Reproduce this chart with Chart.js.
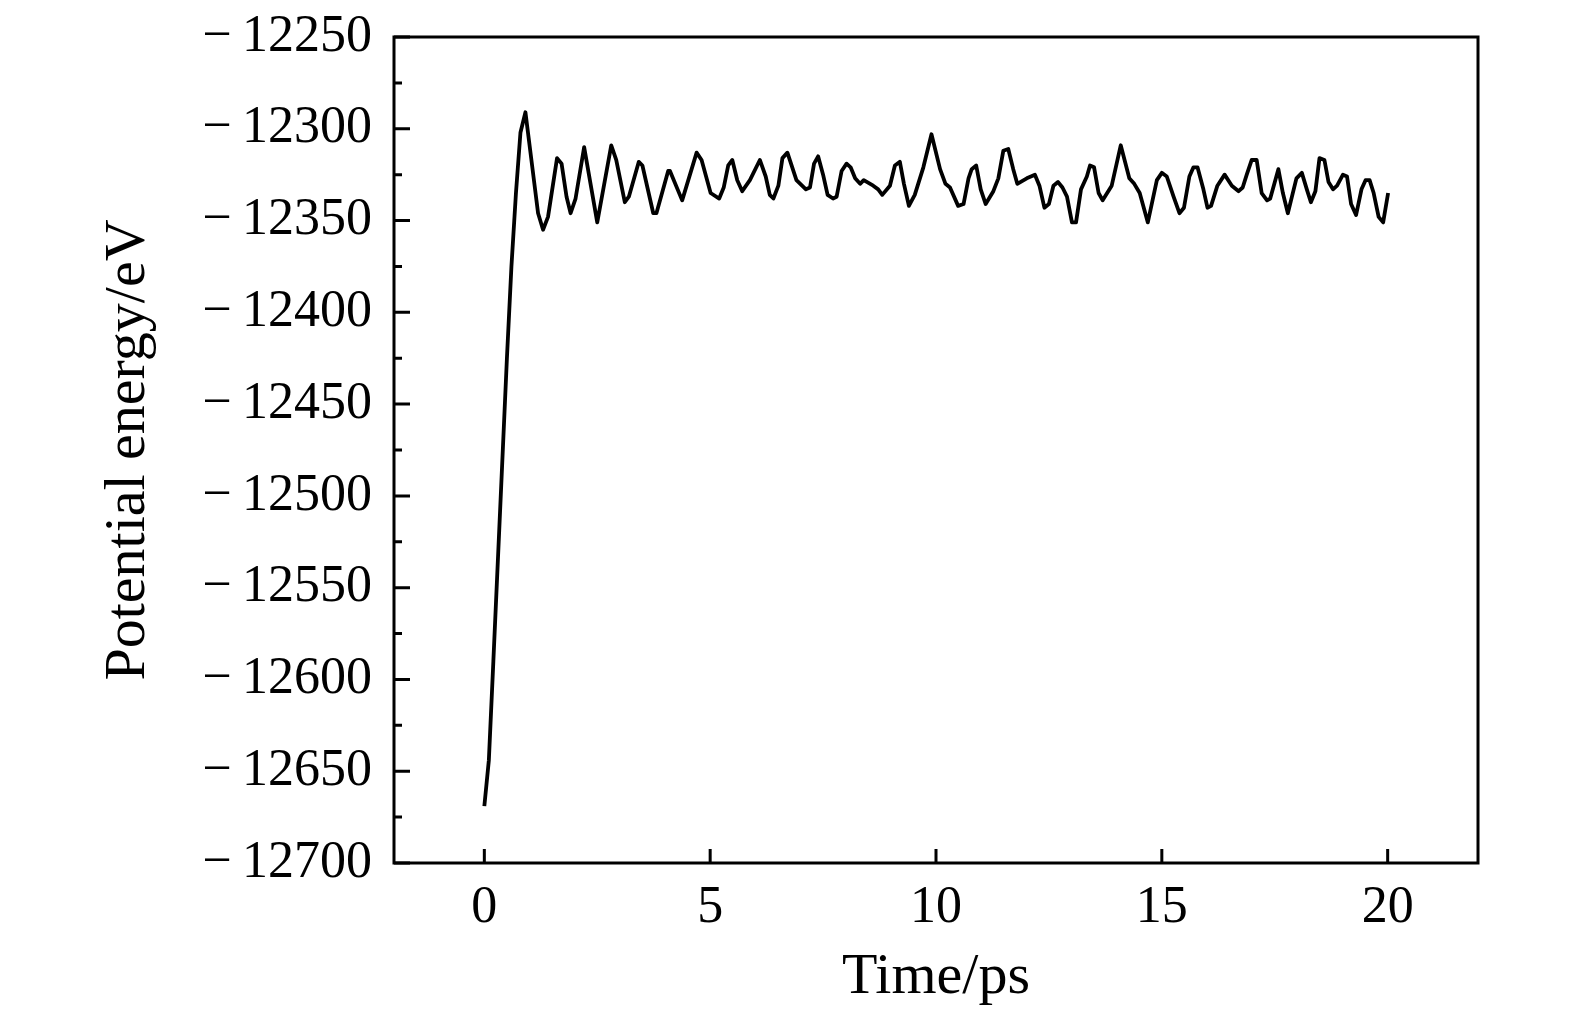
<!DOCTYPE html>
<html>
<head>
<meta charset="utf-8">
<title>Potential energy vs time</title>
<script src="https://cdn.jsdelivr.net/npm/chart.js@4.4.0/dist/chart.umd.min.js"></script>
<style>
  html, body { margin: 0; padding: 0; background: #fff; }
  #wrap { width: 1575px; height: 1014px; position: relative; }
</style>
</head>
<body>
<div id="wrap"><canvas id="chart"></canvas></div>
<script>
// --- Dados (tempo em ps, energia em eV) ---
const times = [
  0, 0.1, 0.2, 0.3, 0.4, 0.5, 0.6, 0.7, 0.8, 0.91,
  1.19, 1.30, 1.41, 1.61, 1.71, 1.82, 1.91, 2.02, 2.21, 2.50,
  2.81, 2.92, 3.11, 3.20, 3.42, 3.50, 3.74, 3.81, 4.07, 4.11,
  4.38, 4.70, 4.81, 5.01, 5.20, 5.30, 5.40, 5.49, 5.60, 5.71,
  5.88, 6.10, 6.23, 6.32, 6.40, 6.51, 6.60, 6.71, 6.91, 7.12,
  7.21, 7.30, 7.39, 7.50, 7.60, 7.72, 7.80, 7.91, 8.02, 8.11,
  8.21, 8.32, 8.40, 8.61, 8.72, 8.81, 8.98, 9.09, 9.20, 9.29,
  9.40, 9.53, 9.72, 9.90, 10.09, 10.21, 10.31, 10.49, 10.61, 10.72,
  10.79, 10.89, 10.99, 11.10, 11.27, 11.38, 11.49, 11.60, 11.71, 11.80,
  12.01, 12.19, 12.29, 12.40, 12.50, 12.60, 12.70, 12.80, 12.90, 13.01,
  13.10, 13.21, 13.34, 13.41, 13.50, 13.60, 13.69, 13.89, 14.09, 14.28,
  14.39, 14.51, 14.69, 14.89, 15.00, 15.11, 15.26, 15.39, 15.49, 15.61,
  15.70, 15.79, 15.92, 16.01, 16.09, 16.23, 16.39, 16.55, 16.70, 16.79,
  16.88, 16.99, 17.10, 17.21, 17.33, 17.40, 17.58, 17.68, 17.79, 17.98,
  18.10, 18.21, 18.30, 18.40, 18.49, 18.60, 18.69, 18.79, 18.88, 19.01,
  19.10, 19.19, 19.30, 19.42, 19.51, 19.60, 19.69, 19.80, 19.90, 20.01
];
const energies = [
  -12669, -12644, -12590, -12535, -12480, -12425, -12375, -12335, -12302, -12291,
  -12346, -12355, -12348, -12316, -12319, -12337, -12346, -12338, -12310, -12351,
  -12309, -12317, -12340, -12337, -12318, -12320, -12346, -12346, -12323, -12323,
  -12339, -12313, -12317, -12335, -12338, -12332, -12320, -12317, -12328, -12334,
  -12328, -12317, -12326, -12336, -12338, -12331, -12316, -12313, -12328, -12333,
  -12332, -12319, -12315, -12325, -12336, -12338, -12337, -12323, -12319, -12321,
  -12327, -12330, -12328, -12331, -12333, -12336, -12331, -12320, -12318, -12330,
  -12342, -12336, -12321, -12303, -12322, -12330, -12332, -12342, -12341, -12327,
  -12322, -12320, -12333, -12341, -12334, -12327, -12312, -12311, -12322, -12330,
  -12327, -12325, -12331, -12343, -12341, -12331, -12329, -12332, -12337, -12351,
  -12351, -12333, -12326, -12320, -12321, -12335, -12339, -12331, -12309, -12327,
  -12330, -12335, -12351, -12328, -12324, -12326, -12337, -12346, -12343, -12326,
  -12321, -12321, -12333, -12343, -12342, -12331, -12325, -12331, -12334, -12332,
  -12325, -12317, -12317, -12335, -12339, -12338, -12322, -12335, -12346, -12327,
  -12324, -12333, -12340, -12334, -12316, -12317, -12329, -12333, -12331, -12325,
  -12326, -12341, -12347, -12333, -12328, -12328, -12335, -12348, -12351, -12335
];

// marcas dos eixos
const xTicks = [0, 5, 10, 15, 20];
const yTicks = [-12700, -12650, -12600, -12550, -12500, -12450, -12400, -12350, -12300, -12250];

const serif = '"Liberation Serif", "DejaVu Serif", serif';

// --- Moldura e marcas internas (ticks para dentro) ---
const frameTicks = {
  id: 'frameTicks',
  afterDatasetsDraw(chart) {
    const { ctx, chartArea: a, scales: { x, y } } = chart;
    ctx.save();
    ctx.strokeStyle = '#000';
    ctx.lineWidth = 3;
    ctx.lineCap = 'butt';
    ctx.beginPath();
    // ticks do eixo y (maiores e menores)
    for (let i = 0; i < yTicks.length; i++) {
      const py = y.getPixelForValue(yTicks[i]);
      ctx.moveTo(a.left, py);
      ctx.lineTo(a.left + 16, py);
      if (i < yTicks.length - 1) {
        const pm = y.getPixelForValue((yTicks[i] + yTicks[i + 1]) / 2);
        ctx.moveTo(a.left, pm);
        ctx.lineTo(a.left + 8, pm);
      }
    }
    // ticks do eixo x
    xTicks.forEach(v => {
      const px = x.getPixelForValue(v);
      ctx.moveTo(px, a.bottom);
      ctx.lineTo(px, a.bottom - 14);
    });
    ctx.stroke();
    ctx.strokeRect(a.left, a.top, a.right - a.left, a.bottom - a.top);
    ctx.restore();
  }
};

const ctx = document.getElementById('chart').getContext('2d');

const chart = new Chart(ctx, {
  type: 'line',
  data: {
    datasets: [{
      label: 'Potential energy',
      data: times.map((t, i) => ({ x: t, y: energies[i] })),
      borderColor: '#000',
      borderWidth: 3.8,
      borderJoinStyle: 'round',
      pointRadius: 0,
      tension: 0,
      fill: false
    }]
  },
  options: {
    responsive: true,
    maintainAspectRatio: false,
    animation: false,
    layout: { padding: { left: 0, right: 97, top: 37, bottom: 0 } },
    plugins: {
      legend: { display: false },
      tooltip: { enabled: false }
    },
    scales: {
      x: {
        type: 'linear',
        min: -2,
        max: 22,
        afterBuildTicks: s => { s.ticks = xTicks.map(v => ({ value: v })); },
        afterFit: s => { s.height = 151; s.paddingLeft = 0; s.paddingRight = 0; },
        grid: { display: false, drawTicks: false },
        border: { display: false },
        ticks: {
          color: '#000',
          padding: 14,
          maxRotation: 0,
          font: { family: serif, size: 52 }
        },
        title: {
          display: true,
          text: 'Time/ps',
          color: '#000',
          padding: { top: 0, bottom: 1 },
          font: { family: serif, size: 58 }
        }
      },
      y: {
        type: 'linear',
        min: -12700,
        max: -12250,
        afterBuildTicks: s => { s.ticks = yTicks.map(v => ({ value: v })); },
        afterFit: s => { s.width = 394; s.paddingTop = 0; s.paddingBottom = 0; },
        grid: { display: false, drawTicks: false },
        border: { display: false },
        ticks: {
          color: '#000',
          padding: 22,
          font: { family: serif, size: 52 },
          callback: v => '\u2212\u2009' + Math.abs(v)
        },
        title: {
          display: true,
          text: 'Potential energy/eV',
          color: '#000',
          padding: { top: 94, bottom: 0 },
          font: { family: serif, size: 58 }
        }
      }
    }
  },
  plugins: [frameTicks]
});
</script>
</body>
</html>
